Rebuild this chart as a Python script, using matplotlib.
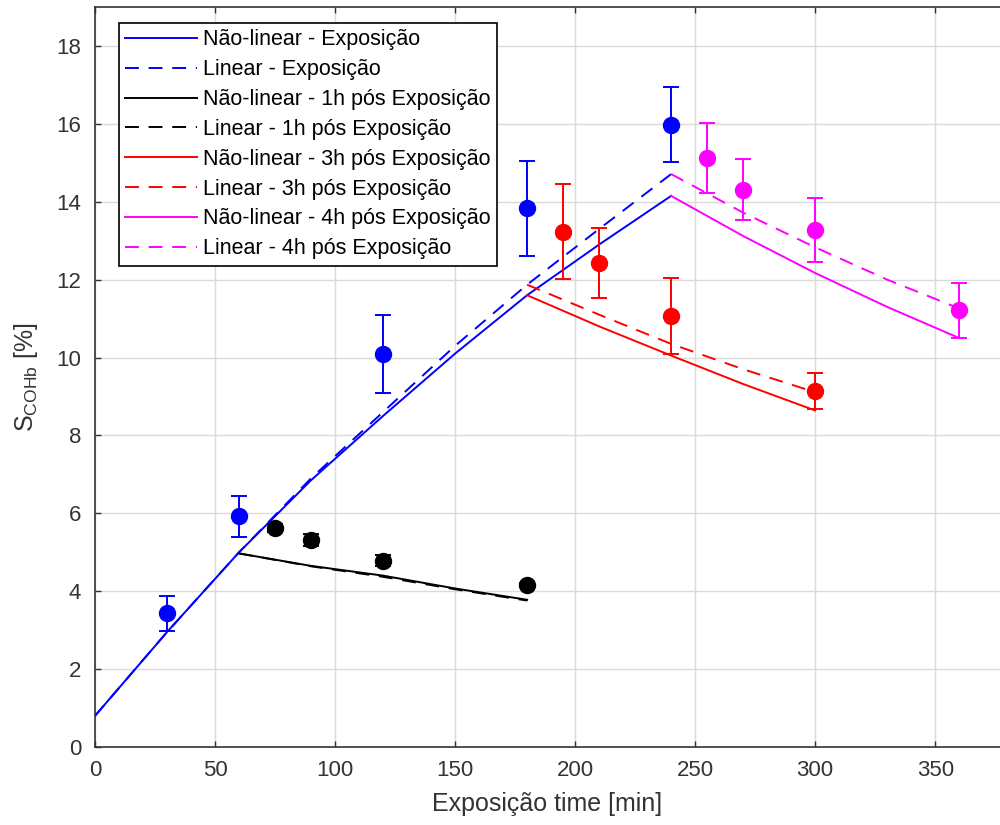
import matplotlib
matplotlib.use('Agg')
import matplotlib.pyplot as plt

plt.rcParams['font.family'] = ['Liberation Sans', 'DejaVu Sans']
plt.rcParams['mathtext.default'] = 'regular'
plt.rcParams['lines.scale_dashes'] = False

# model curves
t_exp = [0, 30, 60, 90, 120, 150, 180, 210, 240]
nl_exp = [0.8, 2.95, 5.0, 6.85, 8.5, 10.1, 11.6, 12.9, 14.15]
lin_exp = [0.8, 2.95, 5.0, 6.9, 8.6, 10.3, 11.87, 13.3, 14.71]

t_1h = [60, 90, 120, 150, 180]
nl_1h = [4.97, 4.65, 4.40, 4.07, 3.78]
lin_1h = [4.97, 4.64, 4.37, 4.05, 3.76]

t_3h = [180, 210, 240, 270, 300]
nl_3h = [11.6, 10.8, 10.05, 9.32, 8.64]
lin_3h = [11.87, 11.1, 10.35, 9.7, 9.11]

t_4h = [240, 270, 300, 330, 360]
nl_4h = [14.15, 13.12, 12.17, 11.3, 10.5]
lin_4h = [14.71, 13.72, 12.83, 12.0, 11.26]

# measured points with error
x_exp_pts = [30, 60, 120, 180, 240]
y_exp_pts = [3.43, 5.92, 10.08, 13.83, 15.98]
e_exp_pts = [0.44, 0.53, 1.0, 1.22, 0.97]

x_1h_pts = [75, 90, 120, 180]
y_1h_pts = [5.62, 5.31, 4.78, 4.15]
e_1h_pts = [0.1, 0.15, 0.14, 0.05]

x_3h_pts = [195, 210, 240, 300]
y_3h_pts = [13.23, 12.43, 11.07, 9.13]
e_3h_pts = [1.22, 0.9, 0.97, 0.46]

x_4h_pts = [255, 270, 300, 360]
y_4h_pts = [15.12, 14.31, 13.27, 11.21]
e_4h_pts = [0.9, 0.78, 0.83, 0.7]

blue, black, red, mag = (0, 0, 1), (0, 0, 0), (1, 0, 0), (1, 0, 1)
dash = (10, 7)

fig = plt.figure(figsize=(10, 8.25), dpi=100)
ax = fig.add_axes([0.095, 78 / 825, 1 - 0.095, 740 / 825])

lw = 1.4
ax.plot(t_exp, nl_exp, color=blue, lw=lw, label='Não-linear - Exposição')
ax.plot(t_exp, lin_exp, color=blue, lw=lw, dashes=dash, label='Linear - Exposição')
ax.plot(t_1h, nl_1h, color=black, lw=lw, label='Não-linear - 1h pós Exposição')
ax.plot(t_1h, lin_1h, color=black, lw=lw, dashes=dash, label='Linear - 1h pós Exposição')
ax.plot(t_3h, nl_3h, color=red, lw=lw, label='Não-linear - 3h pós Exposição')
ax.plot(t_3h, lin_3h, color=red, lw=lw, dashes=dash, label='Linear - 3h pós Exposição')
ax.plot(t_4h, nl_4h, color=mag, lw=lw, label='Não-linear - 4h pós Exposição')
ax.plot(t_4h, lin_4h, color=mag, lw=lw, dashes=dash, label='Linear - 4h pós Exposição')

for xs, ys, es, c in [(x_exp_pts, y_exp_pts, e_exp_pts, blue),
                      (x_1h_pts, y_1h_pts, e_1h_pts, black),
                      (x_3h_pts, y_3h_pts, e_3h_pts, red),
                      (x_4h_pts, y_4h_pts, e_4h_pts, mag)]:
    ax.errorbar(xs, ys, yerr=es, fmt='o', color=c, ms=11.5, capsize=6,
                elinewidth=1.4, capthick=1.4, label='_nolegend_')

ax.set_xlim(0, 377)
ax.set_ylim(0, 19)
ax.set_xticks(range(0, 351, 50))
ax.set_yticks(range(0, 19, 2))
ax.grid(True, color=(0.86, 0.86, 0.86), lw=1.0)
ax.set_axisbelow(True)
ax.spines['right'].set_visible(False)
for s in ['left', 'bottom', 'top']:
    ax.spines[s].set_color((0.2, 0.2, 0.2))
    ax.spines[s].set_linewidth(1.2)
ax.tick_params(direction='in', top=True, length=4, width=1.0,
               labelsize=16, colors=(0.2, 0.2, 0.2), pad=9)
ax.tick_params(axis='y', pad=10)

ax.set_xlabel('Exposição time [min]', fontsize=18, color=(0.2, 0.2, 0.2), labelpad=8)
ax.set_ylabel(r'S$_{COHb}$ [%]', fontsize=18, color=(0.2, 0.2, 0.2), labelpad=12)

leg = ax.legend(loc='upper left', bbox_to_anchor=(119 / 1000, 1 - 23 / 825),
                bbox_transform=fig.transFigure, borderaxespad=0,
                fontsize=15.5, handlelength=3.3, handletextpad=0.3,
                labelspacing=0.41, borderpad=0.3, fancybox=False,
                framealpha=1, edgecolor='black')
leg.get_frame().set_linewidth(1.2)

fig.savefig('out.png', dpi=100)
